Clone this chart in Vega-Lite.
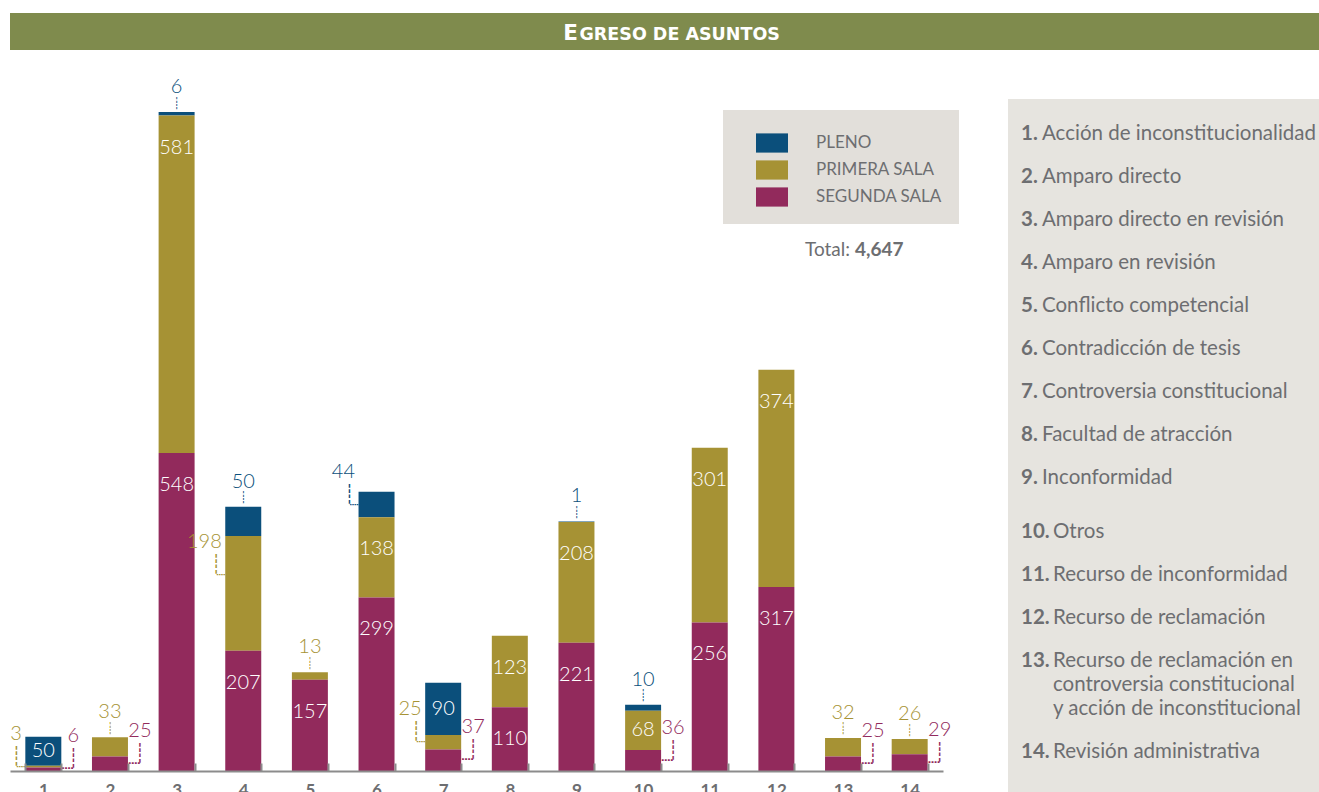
{
  "$schema": "https://vega.github.io/schema/vega-lite/v6.json",
  "padding": {"left": 10, "top": 13, "right": 0, "bottom": 0},
  "background": "#ffffff",
  "bounds": "flush",
  "spacing": 49,
  "config": {"view": {"stroke": null}, "font": "Lato"},
  "vconcat": [
    {
      "width": 1309,
      "height": 37,
      "view": {"fill": "#7f8b4d", "stroke": null},
      "data": {"values": [{}]},
      "layer": [
        {"mark": {"type": "text", "text": "E", "font": "DejaVu Sans", "fontWeight": "bold", "fontSize": 21.5, "color": "#ffffff", "align": "right", "baseline": "alphabetic", "dx": -86.5, "dy": 8}, "encoding": {}},
        {"mark": {"type": "text", "text": "GRESO DE ASUNTOS", "font": "DejaVu Sans", "fontWeight": "bold", "fontSize": 17.5, "color": "#ffffff", "align": "left", "baseline": "alphabetic", "dx": -85, "dy": 8}, "encoding": {}}
      ]
    },
    {
      "hconcat": [
        {
          "width": 933,
          "height": 672,
          "data": {"values": [
            {"cat": "1", "series": "Pleno", "value": 50},
            {"cat": "1", "series": "Primera Sala", "value": 3},
            {"cat": "1", "series": "Segunda Sala", "value": 6},
            {"cat": "2", "series": "Primera Sala", "value": 33},
            {"cat": "2", "series": "Segunda Sala", "value": 25},
            {"cat": "3", "series": "Pleno", "value": 6},
            {"cat": "3", "series": "Primera Sala", "value": 581},
            {"cat": "3", "series": "Segunda Sala", "value": 548},
            {"cat": "4", "series": "Pleno", "value": 50},
            {"cat": "4", "series": "Primera Sala", "value": 198},
            {"cat": "4", "series": "Segunda Sala", "value": 207},
            {"cat": "5", "series": "Primera Sala", "value": 13},
            {"cat": "5", "series": "Segunda Sala", "value": 157},
            {"cat": "6", "series": "Pleno", "value": 44},
            {"cat": "6", "series": "Primera Sala", "value": 138},
            {"cat": "6", "series": "Segunda Sala", "value": 299},
            {"cat": "7", "series": "Pleno", "value": 90},
            {"cat": "7", "series": "Primera Sala", "value": 25},
            {"cat": "7", "series": "Segunda Sala", "value": 37},
            {"cat": "8", "series": "Primera Sala", "value": 123},
            {"cat": "8", "series": "Segunda Sala", "value": 110},
            {"cat": "9", "series": "Pleno", "value": 1},
            {"cat": "9", "series": "Primera Sala", "value": 208},
            {"cat": "9", "series": "Segunda Sala", "value": 221},
            {"cat": "10", "series": "Pleno", "value": 10},
            {"cat": "10", "series": "Primera Sala", "value": 68},
            {"cat": "10", "series": "Segunda Sala", "value": 36},
            {"cat": "11", "series": "Primera Sala", "value": 301},
            {"cat": "11", "series": "Segunda Sala", "value": 256},
            {"cat": "12", "series": "Primera Sala", "value": 374},
            {"cat": "12", "series": "Segunda Sala", "value": 317},
            {"cat": "13", "series": "Primera Sala", "value": 32},
            {"cat": "13", "series": "Segunda Sala", "value": 25},
            {"cat": "14", "series": "Primera Sala", "value": 26},
            {"cat": "14", "series": "Segunda Sala", "value": 29}
          ]},
          "transform": [
            {"calculate": "datum.series == 'Segunda Sala' ? 0 : (datum.series == 'Primera Sala' ? 1 : 2)", "as": "ord"},
            {"stack": "value", "groupby": ["cat"], "sort": [{"field": "ord", "order": "ascending"}], "as": ["v0", "v1"]},
            {"calculate": "max(datum.v1 - 55, (datum.v0 + datum.v1) / 2)", "as": "ly"},
            {"calculate": "max((datum.v0 + datum.v1) / 2, datum.v1 - 67)", "as": "hy"},
            {"calculate": "datum.v0 * 0 + 897.5", "as": "ty"},
            {"calculate": "datum.cat + '|' + datum.series", "as": "key"},
            {"calculate": "datum.key ? '\u250a' : '\u250a'", "as": "vg"},
            {"calculate": "datum.key ? '\u2508' : '\u2508'", "as": "hg"},
            {"calculate": "datum.key ? 'Total:' : 'Total:'", "as": "tlab"},
            {"calculate": "datum.key ? '4,647' : '4,647'", "as": "tval"},
            {"calculate": "indexof(['2|Primera Sala','3|Pleno','4|Pleno','5|Primera Sala','9|Pleno','10|Pleno','13|Primera Sala','14|Primera Sala'], datum.key) >= 0 ? 'above' : (indexof(['1|Primera Sala','4|Primera Sala','6|Pleno','7|Primera Sala'], datum.key) >= 0 ? 'left' : (indexof(['1|Segunda Sala','2|Segunda Sala','7|Segunda Sala','10|Segunda Sala','13|Segunda Sala','14|Segunda Sala'], datum.key) >= 0 ? 'right' : 'in'))", "as": "place"}
          ],
          "layer": [
            {
              "mark": {"type": "bar"},
              "encoding": {
                "x": {
                  "field": "cat", "type": "nominal",
                  "scale": {"domain": ["1","2","3","4","5","6","7","8","9","10","11","12","13","14"], "paddingInner": 0.46, "paddingOuter": 0.23},
                  "axis": {"title": null, "zindex": 1, "labelAngle": 0, "domainColor": "#8c8c8c", "domainWidth": 2, "tickColor": "#8c8c8c", "tickWidth": 2, "tickSize": -8, "tickBand": "extent", "labelFont": "Lato", "labelFontWeight": "bold", "labelFontSize": 17, "labelColor": "#6d6e71", "labelPadding": 32, "labelBaseline": "alphabetic", "grid": false}
                },
                "y": {"field": "v1", "type": "quantitative", "scale": {"domain": [0, 1157.6], "nice": false, "zero": false}, "axis": null},
                "y2": {"field": "v0"},
                "color": {
                  "field": "series", "type": "nominal",
                  "scale": {"domain": ["Pleno", "Primera Sala", "Segunda Sala"], "range": ["#0b4f7b", "#a69234", "#922a5c"]},
                  "legend": {"orient": "none", "legendX": 713, "legendY": 97, "title": null, "padding": 17, "fillColor": "#e2dfda", "symbolType": "M-1,-0.6L1,-0.6L1,0.6L-1,0.6Z", "symbolSize": 1024, "symbolStrokeWidth": 0, "symbolOpacity": 1, "symbolOffset": 16, "labelFont": "Lato", "labelFontSize": 17, "labelColor": "#6d6e71", "labelOffset": 28, "rowPadding": 1, "labelExpr": "upper(datum.label)"}
                }
              }
            },
            {
              "transform": [{"filter": "datum.place == 'in'"}],
              "mark": {"type": "text", "font": "Lato", "fontWeight": 300, "fontSize": 20, "color": "#ffffff", "baseline": "middle"},
              "encoding": {
                "x": {"field": "cat", "type": "nominal", "bandPosition": 0.5},
                "y": {"field": "ly", "type": "quantitative"},
                "text": {"field": "value", "type": "quantitative"}
              }
            },
            {
              "transform": [{"filter": "datum.place == 'above'"}],
              "mark": {"type": "text", "font": "DejaVu Sans", "fontSize": 11, "baseline": "middle", "dy": -8.5},
              "encoding": {
                "x": {"field": "cat", "type": "nominal", "bandPosition": 0.5},
                "y": {"field": "v1", "type": "quantitative"},
                "text": {"field": "vg", "type": "nominal"},
                "color": {"field": "series", "type": "nominal", "legend": null}
              }
            },
            {
              "transform": [{"filter": "datum.place == 'above'"}],
              "mark": {"type": "text", "font": "Lato", "fontWeight": 300, "fontSize": 20, "baseline": "middle", "dy": -25},
              "encoding": {
                "x": {"field": "cat", "type": "nominal", "bandPosition": 0.5},
                "y": {"field": "v1", "type": "quantitative"},
                "text": {"field": "value", "type": "quantitative"},
                "color": {"field": "series", "type": "nominal", "legend": null}
              }
            },
            {
              "transform": [{"filter": "datum.place == 'left'"}],
              "mark": {"type": "text", "font": "DejaVu Sans", "fontSize": 15, "baseline": "middle", "dx": -4.5},
              "encoding": {
                "x": {"field": "cat", "type": "nominal", "bandPosition": 0},
                "y": {"field": "hy", "type": "quantitative"},
                "text": {"field": "hg", "type": "nominal"},
                "color": {"field": "series", "type": "nominal", "legend": null}
              }
            },
            {
              "transform": [{"filter": "datum.place == 'left'"}],
              "mark": {"type": "text", "font": "DejaVu Sans", "fontSize": 18, "baseline": "middle", "dx": -9, "dy": -10},
              "encoding": {
                "x": {"field": "cat", "type": "nominal", "bandPosition": 0},
                "y": {"field": "hy", "type": "quantitative"},
                "text": {"field": "vg", "type": "nominal"},
                "color": {"field": "series", "type": "nominal", "legend": null}
              }
            },
            {
              "transform": [{"filter": "datum.place == 'left'"}],
              "mark": {"type": "text", "font": "Lato", "fontWeight": 300, "fontSize": 20, "align": "right", "baseline": "middle", "dx": -3.5, "dy": -33},
              "encoding": {
                "x": {"field": "cat", "type": "nominal", "bandPosition": 0},
                "y": {"field": "hy", "type": "quantitative"},
                "text": {"field": "value", "type": "quantitative"},
                "color": {"field": "series", "type": "nominal", "legend": null}
              }
            },
            {
              "transform": [{"filter": "datum.place == 'right'"}],
              "mark": {"type": "text", "font": "DejaVu Sans", "fontSize": 20, "baseline": "middle", "dx": 6},
              "encoding": {
                "x": {"field": "cat", "type": "nominal", "bandPosition": 1},
                "y": {"field": "hy", "type": "quantitative"},
                "text": {"field": "hg", "type": "nominal"},
                "color": {"field": "series", "type": "nominal", "legend": null}
              }
            },
            {
              "transform": [{"filter": "datum.place == 'right'"}],
              "mark": {"type": "text", "font": "DejaVu Sans", "fontSize": 18, "baseline": "middle", "dx": 12, "dy": -10},
              "encoding": {
                "x": {"field": "cat", "type": "nominal", "bandPosition": 1},
                "y": {"field": "hy", "type": "quantitative"},
                "text": {"field": "vg", "type": "nominal"},
                "color": {"field": "series", "type": "nominal", "legend": null}
              }
            },
            {
              "transform": [{"filter": "datum.place == 'right'"}],
              "mark": {"type": "text", "font": "Lato", "fontWeight": 300, "fontSize": 20, "baseline": "middle", "dx": 12, "dy": -33},
              "encoding": {
                "x": {"field": "cat", "type": "nominal", "bandPosition": 1},
                "y": {"field": "hy", "type": "quantitative"},
                "text": {"field": "value", "type": "quantitative"},
                "color": {"field": "series", "type": "nominal", "legend": null}
              }
            },
            {
              "transform": [{"filter": "datum.key == '13|Segunda Sala'"}],
              "mark": {"type": "text", "align": "right", "baseline": "middle", "font": "Lato", "fontSize": 19, "color": "#6d6e71", "dx": 7},
              "encoding": {
                "x": {"field": "cat", "type": "nominal", "bandPosition": 0.5},
                "y": {"field": "ty", "type": "quantitative"},
                "text": {"field": "tlab", "type": "nominal"}
              }
            },
            {
              "transform": [{"filter": "datum.key == '13|Segunda Sala'"}],
              "mark": {"type": "text", "align": "left", "baseline": "middle", "font": "Lato", "fontWeight": "bold", "fontSize": 19, "color": "#6d6e71", "dx": 12},
              "encoding": {
                "x": {"field": "cat", "type": "nominal", "bandPosition": 0.5},
                "y": {"field": "ty", "type": "quantitative"},
                "text": {"field": "tval", "type": "nominal"}
              }
            }
          ]
        },
        {
          "width": 311,
          "height": 693,
          "view": {"fill": "#e6e4df", "stroke": null},
          "data": {"values": [
            {"n": 1, "label": "Acción de inconstitucionalidad"},
            {"n": 2, "label": "Amparo directo"},
            {"n": 3, "label": "Amparo directo en revisión"},
            {"n": 4, "label": "Amparo en revisión"},
            {"n": 5, "label": "Conflicto competencial"},
            {"n": 6, "label": "Contradicción de tesis"},
            {"n": 7, "label": "Controversia constitucional"},
            {"n": 8, "label": "Facultad de atracción"},
            {"n": 9, "label": "Inconformidad"},
            {"n": 10, "label": "Otros"},
            {"n": 11, "label": "Recurso de inconformidad"},
            {"n": 12, "label": "Recurso de reclamación"},
            {"n": 13, "label": "Recurso de reclamación en\ncontroversia constitucional\ny acción de inconstitucional"},
            {"n": 14, "label": "Revisión administrativa"}
          ]},
          "transform": [{"calculate": "datum.n + '.'", "as": "num"}],
          "layer": [
            {"transform": [{"filter": "datum.n <= 9"}], "mark": {"type": "text", "align": "left", "baseline": "middle", "font": "Lato", "fontSize": 20.5, "fontWeight": "bold", "color": "#6d6e71"}, "encoding": {"x": {"datum": 0, "type": "quantitative", "scale": {"domain": [0, 1], "range": [13, 300]}, "axis": null}, "y": {"field": "n", "type": "quantitative", "scale": {"domain": [1, 14], "range": [35, 594]}, "axis": null}, "text": {"field": "num", "type": "nominal"}}},
            {"transform": [{"filter": "datum.n >= 10 && datum.n <= 13"}], "mark": {"type": "text", "align": "left", "baseline": "middle", "font": "Lato", "fontSize": 20.5, "fontWeight": "bold", "color": "#6d6e71", "dy": 11}, "encoding": {"x": {"datum": 0, "type": "quantitative"}, "y": {"field": "n", "type": "quantitative"}, "text": {"field": "num", "type": "nominal"}}},
            {"transform": [{"filter": "datum.n == 14"}], "mark": {"type": "text", "align": "left", "baseline": "middle", "font": "Lato", "fontSize": 20.5, "fontWeight": "bold", "color": "#6d6e71", "dy": 59}, "encoding": {"x": {"datum": 0, "type": "quantitative"}, "y": {"field": "n", "type": "quantitative"}, "text": {"field": "num", "type": "nominal"}}},
            {"transform": [{"filter": "datum.n <= 9"}], "mark": {"type": "text", "align": "left", "baseline": "middle", "font": "Lato", "fontSize": 20.5, "color": "#6d6e71", "dx": 21}, "encoding": {"x": {"datum": 0, "type": "quantitative"}, "y": {"field": "n", "type": "quantitative"}, "text": {"field": "label", "type": "nominal"}}},
            {"transform": [{"filter": "datum.n >= 10 && datum.n <= 12"}], "mark": {"type": "text", "align": "left", "baseline": "middle", "font": "Lato", "fontSize": 20.5, "color": "#6d6e71", "dx": 32, "dy": 11}, "encoding": {"x": {"datum": 0, "type": "quantitative"}, "y": {"field": "n", "type": "quantitative"}, "text": {"field": "label", "type": "nominal"}}},
            {"transform": [{"filter": "datum.n == 13"}], "mark": {"type": "text", "align": "left", "baseline": "middle", "font": "Lato", "fontSize": 20.5, "color": "#6d6e71", "dx": 32, "dy": 11, "lineBreak": "\n", "lineHeight": 24}, "encoding": {"x": {"datum": 0, "type": "quantitative"}, "y": {"field": "n", "type": "quantitative"}, "text": {"field": "label", "type": "nominal"}}},
            {"transform": [{"filter": "datum.n == 14"}], "mark": {"type": "text", "align": "left", "baseline": "middle", "font": "Lato", "fontSize": 20.5, "color": "#6d6e71", "dx": 32, "dy": 59}, "encoding": {"x": {"datum": 0, "type": "quantitative"}, "y": {"field": "n", "type": "quantitative"}, "text": {"field": "label", "type": "nominal"}}}
          ]
        }
      ],
      "spacing": 65,
      "bounds": "flush"
    }
  ]
}
